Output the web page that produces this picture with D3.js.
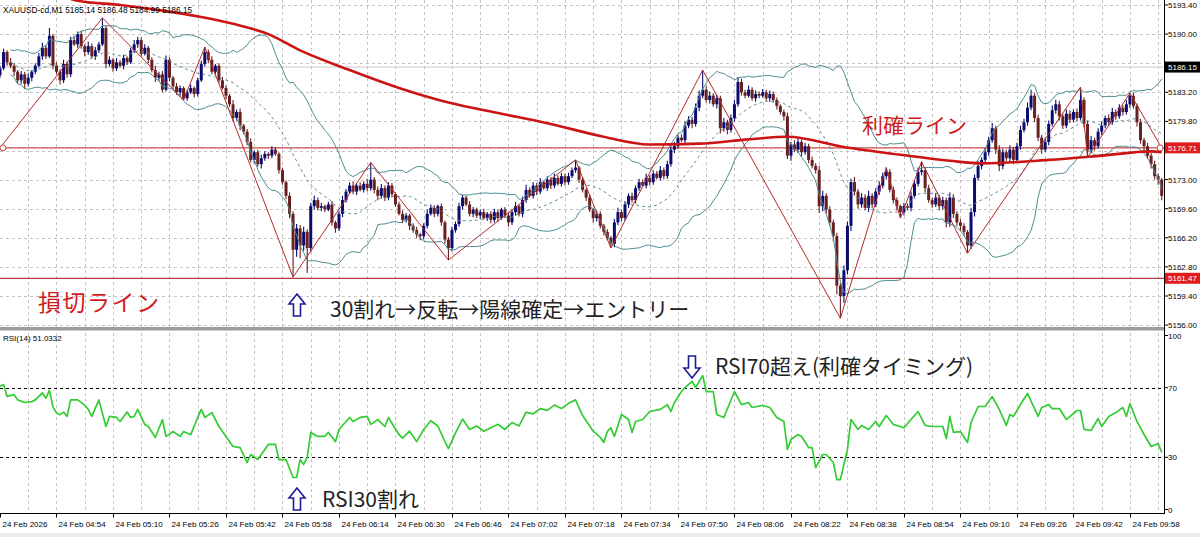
<!DOCTYPE html>
<html><head><meta charset="utf-8">
<script src="https://cdn.jsdelivr.net/npm/d3@7"></script>
<style>body{margin:0;background:#fff}svg{display:block}</style>
</head><body>
<svg id="c" width="1200" height="537"></svg>
<script>
// ---------------- data ----------------
const firstOpen = 5185.2;
const closes = [
5186.0,5187.9,5186.7,5186.3,5185.6,5184.6,5185.3,5184.2,5184.9,5185.6,
5186.3,5187.4,5188.4,5187.4,5189.8,5186.3,5185.6,5184.6,5186.5,5185.3,
5189.3,5188.8,5190.0,5188.6,5187.9,5188.6,5187.4,5188.1,5188.8,5190.7,
5186.5,5187.0,5186.0,5186.7,5186.3,5187.2,5186.7,5188.1,5188.8,5189.3,
5187.7,5188.4,5187.0,5185.8,5184.9,5185.3,5183.5,5187.0,5184.9,5183.9,
5183.2,5183.7,5182.5,5183.2,5183.7,5183.0,5184.6,5186.5,5187.9,5187.0,
5185.6,5186.3,5184.6,5183.7,5182.8,5181.8,5180.2,5180.9,5179.3,5178.6,
5177.4,5175.3,5176.2,5174.8,5175.5,5176.0,5175.8,5176.5,5176.0,5174.1,
5172.7,5171.1,5169.0,5164.8,5167.3,5165.3,5166.9,5165.0,5169.9,5170.6,
5169.7,5169.9,5169.5,5170.1,5168.0,5167.3,5169.0,5170.6,5171.6,5172.3,
5171.6,5172.3,5171.8,5172.5,5172.0,5173.0,5171.8,5171.1,5172.0,5170.9,
5172.3,5171.3,5170.1,5169.0,5168.3,5168.8,5167.6,5167.1,5166.6,5166.4,
5167.6,5169.0,5169.7,5169.0,5169.9,5168.0,5166.0,5165.0,5167.1,5167.8,
5169.9,5170.9,5170.1,5169.0,5169.5,5168.8,5169.2,5168.5,5169.0,5168.3,
5169.2,5168.5,5169.5,5168.8,5168.0,5169.2,5169.9,5169.0,5170.6,5171.8,
5171.1,5172.3,5171.6,5172.7,5172.0,5173.0,5172.3,5173.2,5172.5,5173.4,
5172.7,5173.4,5174.1,5174.4,5173.0,5171.8,5170.9,5169.5,5168.5,5169.0,
5167.6,5166.9,5166.2,5165.5,5168.0,5169.2,5168.5,5170.1,5171.1,5170.6,
5172.0,5172.7,5172.3,5173.2,5172.7,5173.7,5173.2,5174.1,5173.4,5174.8,
5176.5,5176.9,5177.9,5177.6,5179.3,5180.0,5179.5,5181.4,5182.8,5183.5,
5182.3,5182.8,5181.8,5182.5,5179.0,5179.7,5178.8,5180.2,5181.8,5184.4,
5183.2,5182.8,5183.5,5182.5,5183.0,5182.8,5183.2,5182.5,5183.0,5182.3,
5181.6,5180.9,5180.4,5175.8,5177.1,5176.5,5177.4,5176.2,5176.9,5175.3,
5174.6,5174.1,5169.9,5171.1,5169.5,5168.0,5166.4,5160.6,5159.4,5162.4,
5167.6,5172.7,5171.6,5170.1,5170.9,5169.7,5171.1,5170.1,5171.6,5172.3,
5173.4,5173.9,5171.8,5170.6,5169.9,5169.2,5169.9,5169.7,5171.1,5172.5,
5173.9,5174.1,5172.0,5170.6,5170.1,5170.9,5169.9,5170.6,5168.0,5170.9,
5169.0,5168.0,5167.6,5166.9,5165.3,5169.2,5173.2,5174.6,5175.3,5176.2,
5177.6,5179.0,5176.5,5174.6,5176.2,5175.5,5176.5,5175.3,5176.9,5178.8,
5179.7,5181.4,5182.8,5180.2,5177.9,5176.5,5177.4,5179.5,5181.1,5181.8,
5180.4,5179.3,5180.7,5180.0,5180.9,5180.2,5182.3,5179.5,5176.5,5177.6,
5176.9,5178.6,5179.3,5180.2,5179.7,5180.9,5180.4,5181.4,5180.9,5181.8,
5182.8,5181.6,5179.7,5177.6,5176.9,5175.8,5174.8,5173.4,5173.0,5171.1];
const upperWicks = [
0.3,0.4,0.2,0.5,0.3,0.2,0.4,0.3,0.5,0.2, 0.3,0.4,0.6,0.3,0.9,0.2,0.4,0.3,0.5,0.3,
0.4,0.5,0.3,0.4,0.2,0.5,0.3,0.4,0.3,1.2, 0.3,0.4,0.2,0.5,0.3,0.4,0.2,0.3,0.5,0.4,
0.3,0.4,0.2,0.3,0.5,0.3,0.4,0.5,0.3,0.2, 0.4,0.3,0.2,0.3,0.4,0.2,0.3,0.4,0.6,0.3,
0.4,0.2,0.3,0.4,0.3,0.2,0.5,0.3,0.4,0.2, 0.3,0.4,0.2,0.3,0.4,0.3,0.2,0.4,0.3,0.2,
0.3,0.2,0.4,0.3,0.5,0.4,0.6,0.3,0.4,0.5, 0.3,0.4,0.2,0.3,0.4,0.2,0.3,0.5,0.3,0.4,
0.5,0.3,0.4,0.3,0.6,2.0,0.3,0.4,0.5,0.3, 0.4,0.3,0.2,0.3,0.4,0.3,0.2,0.3,0.4,0.2,
0.3,0.5,0.4,0.3,0.2,0.3,0.2,0.3,0.4,0.3, 0.4,0.3,0.2,0.4,0.3,0.2,0.3,0.4,0.2,0.3,
0.4,0.3,0.2,0.3,0.4,0.3,0.5,0.2,0.4,0.6, 0.3,0.4,0.3,0.5,0.2,0.4,0.3,0.5,0.3,0.4,
0.3,0.4,0.3,0.9,0.2,0.3,0.2,0.3,0.2,0.4, 0.3,0.2,0.3,0.2,0.4,0.5,0.3,0.4,0.3,0.4,
0.3,0.4,0.3,0.5,0.3,0.4,0.3,0.5,0.3,0.4, 0.4,0.5,0.3,0.4,0.5,0.4,0.3,0.5,0.6,2.3,
0.4,0.5,0.3,0.4,0.3,0.5,0.3,0.4,0.5,0.6, 0.4,0.3,0.5,0.3,0.4,0.3,0.4,0.3,0.4,0.3,
0.3,0.2,0.3,0.4,0.3,0.5,0.4,0.3,0.4,0.3, 0.4,0.3,0.5,0.6,0.3,0.4,0.3,0.4,0.3,0.6,
0.5,0.4,0.6,0.3,0.5,0.4,0.6,0.3,0.4,0.5, 0.4,0.5,0.3,0.4,0.3,0.2,0.4,0.3,0.5,0.4,
0.5,1.0,0.3,0.4,0.3,0.5,0.3,0.4,0.3,0.6, 0.4,0.3,0.4,0.3,0.2,0.5,0.4,0.6,0.3,0.5,
0.4,0.6,0.3,0.5,0.4,0.3,0.5,0.3,0.4,0.5, 0.4,0.6,0.7,0.3,0.4,0.3,0.5,0.4,0.6,0.5,
0.4,0.3,0.5,0.4,0.3,0.4,1.5,0.3,0.4,0.5, 0.3,0.4,0.5,0.3,0.4,0.5,0.3,0.4,0.3,0.5,
0.3,0.4,0.3,0.4,0.3,0.4,0.3,0.4,0.3,0.2];
const lowerWicks = [
0.3,0.2,0.4,0.3,0.5,0.3,0.4,0.6,0.3,0.4, 0.3,0.2,0.4,0.3,0.2,0.4,0.3,0.5,0.3,0.4,
0.3,0.2,0.4,0.3,0.5,0.3,0.2,0.4,0.3,0.2, 0.5,0.3,0.4,0.3,0.2,0.4,0.3,0.2,0.3,0.4,
0.3,0.2,0.4,0.3,0.5,0.4,0.3,0.2,0.4,0.3, 0.3,0.4,0.2,0.3,0.2,0.4,0.3,0.2,0.3,0.4,
0.3,0.4,0.3,0.2,0.4,0.3,0.4,0.3,0.5,0.3, 0.4,0.3,0.4,0.3,0.5,0.3,0.4,0.3,0.2,0.4,
0.3,0.4,0.5,3.2,0.8,1.5,0.6,2.9,0.5,0.4, 0.3,0.4,0.3,0.2,0.4,0.5,0.3,0.4,0.3,0.2,
0.3,0.4,0.2,0.3,0.4,0.3,0.4,0.5,0.3,0.4, 0.3,0.4,0.3,0.2,0.4,0.3,0.5,0.3,0.4,0.5,
0.4,0.3,0.2,0.4,0.3,0.4,0.5,1.4,0.4,0.3, 0.3,0.4,0.2,0.3,0.4,0.3,0.4,0.2,0.3,0.4,
0.3,0.4,0.2,0.3,0.5,0.3,0.4,0.3,0.4,0.3, 0.2,0.3,0.4,0.3,0.2,0.3,0.4,0.3,0.2,0.3,
0.4,0.3,0.2,0.3,0.4,0.3,0.4,0.3,0.5,0.4, 0.3,0.4,0.3,0.5,0.4,0.3,0.4,0.3,0.4,0.3,
0.4,0.3,0.2,0.3,0.4,0.3,0.2,0.3,0.4,0.3, 0.3,0.4,0.3,0.2,0.4,0.3,0.5,0.3,0.4,0.3,
0.3,0.4,0.3,0.5,0.6,0.4,0.5,0.3,0.4,0.3, 0.4,0.3,0.2,0.3,0.4,0.3,0.2,0.3,0.4,0.3,
0.4,0.3,0.5,0.4,0.6,0.3,0.4,0.5,0.3,0.4, 0.3,0.4,0.8,0.6,0.5,0.4,0.6,1.0,2.6,0.8,
0.5,0.6,0.4,0.5,0.4,0.3,0.5,0.4,0.3,0.4, 0.3,0.4,0.3,0.4,0.5,0.7,0.4,0.3,0.4,0.3,
0.3,0.4,0.5,0.3,0.4,0.3,0.5,0.4,0.6,0.5, 0.5,0.4,0.6,0.5,0.9,0.4,0.5,0.3,0.4,0.3,
0.4,0.3,0.5,0.6,0.4,0.3,0.4,0.5,0.3,0.4, 0.3,0.4,0.3,0.5,0.4,0.5,0.3,0.4,0.3,0.4,
0.5,0.4,0.3,0.4,0.3,0.4,0.3,0.4,0.9,0.4, 0.5,0.3,0.4,0.3,0.4,0.3,0.4,0.3,0.4,0.3,
0.4,0.3,0.5,0.4,0.6,0.4,0.5,0.4,0.6,0.5];

const zigzagIdx   = [0,29,52,58,83,105,127,163,173,199,238,251,255,261,274,306,308,320,329];
const zigzagPrice = [5176.7,5191.9,5182.3,5188.5,5161.6,5175.0,5163.6,5175.3,5165.0,5185.8,5156.8,5174.4,5168.5,5175.1,5164.4,5183.8,5175.6,5183.1,5176.7];

const maIdx   = [14,22,34,45,57,66,76,85,99,113,127,142,156,170,184,198,212,223,239,255,269,278,297,312,326,329];
const maPrice = [5195.0,5193.9,5193.4,5192.8,5192.0,5191.2,5190.0,5188.1,5185.8,5183.7,5182.0,5180.7,5179.5,5178.1,5177.1,5177.2,5177.7,5178.0,5176.8,5175.9,5175.2,5174.9,5175.3,5175.8,5176.3,5176.2];

const rsiIdx = [0,1,2,4,5,7,9,10,12,13,14,15,16,17,18,19,20,22,24,25,26,28,30,31,33,34,36,37,38,39,41,42,44,46,47,49,51,52,54,56,57,58,60,62,64,66,68,70,71,73,75,76,78,79,81,83,84,85,86,87,88,90,92,93,95,96,99,100,102,104,105,107,109,110,113,
114,116,118,120,122,124,126,127,129,131,133,135,137,139,141,143,145,147,149,151,153,155,157,159,161,163,165,167,168,
170,171,172,173,174,176,178,179,180,182,184,187,189,190,191,193,194,196,197,199,200,202,203,205,208,210,212,213,216,218,220,222,223,224,226,227,229,230,231,233,234,236,237,238,240,241,243,244,246,248,249,251,253,256,258,260,262,264,267,268,269,270,272,274,275,277,279,281,283,285,286,287,289,291,294,295,297,298,300,302,305,306,307,309,311,312,314,316,318,319,320,322,324,326,328,329];
const rsiVal = [70.7,71.8,65,66,63,61.5,62,63,67,64,68.5,59,55.5,54.5,56,53.5,63,63,60,57.5,53.5,63,47.7,53.5,52.9,50.6,56,52.9,53.5,57.5,48.9,47.7,41.4,51.7,42,44.8,42,44.8,43,52.9,57.5,52.9,55.7,47.7,42,36.2,35.6,27,31.6,28.7,34.5,37.4,37.4,28.7,28.7,18.4,18.4,28.7,25.9,29.9,44.3,42,42,44.3,39,46,52.9,50.6,52.9,53.5,48.9,51.7,47.7,52.9,43,
41,45,39,46,51,48,39,35,44,52,46,48,45,47,49,46,50,48,56,55,58,57,60,58,61,63,54,48,45,
41.4,38.5,44.8,47,42,54.6,51.7,44.3,50.6,51.7,56.3,57.5,60.3,56.3,61.5,67.8,70.1,73.6,70.1,77,67.8,67.8,54.6,52.9,67.8,60.3,61.5,58.6,59.8,58.6,52.9,50.6,34.5,40.2,43.1,42,35.6,35.6,24.1,31.6,31.6,27,17.2,17.2,34.5,51.7,46,48.3,46,50.6,47.7,54,48.9,47,51.7,56.3,48.3,47.7,47.7,40.8,53.5,44.3,44.8,38.5,50,59.2,59.2,64.9,57.5,48.3,54.6,53.5,60.3,66.7,53.5,58.6,60.3,58,58,51.7,56.9,56.9,46,45.4,52.3,47.7,53.5,55.7,58.6,53.5,60.9,50.6,43.1,36.2,37.9,32.8];

const timeLabels = ["24 Feb 2026","24 Feb 04:54","24 Feb 05:10","24 Feb 05:26","24 Feb 05:42","24 Feb 05:58","24 Feb 06:14","24 Feb 06:30","24 Feb 06:46","24 Feb 07:02","24 Feb 07:18","24 Feb 07:34","24 Feb 07:50","24 Feb 08:06","24 Feb 08:22","24 Feb 08:38","24 Feb 08:54","24 Feb 09:10","24 Feb 09:26","24 Feb 09:42","24 Feb 09:58"];
const barsPerLabel = 16, barsPerGrid = 8;
const priceTicks = [5193.40,5190.00,5186.60,5183.20,5179.80,5176.40,5173.00,5169.60,5166.20,5162.80,5159.40,5156.00];
const rsiTicks = [100,70,30,0];
const rsiLevels = [70,30];
const bidPrice = 5186.15, takeProfit = 5176.71, stopLoss = 5161.47;
const headerText = "XAUUSD-cd,M1  5185.14 5186.48 5184.99 5186.15";
const rsiHeader = "RSI(14) 51.0332";

// ---------------- layout ----------------
const plotR = 1164;
const mainTop = 0, mainBot = 327;
const rsiTop = 331, rsiBot = 513.5;
const svg = d3.select("#c");
const x = d3.scaleLinear().domain([0, 329]).range([0, 329 * 3.531]);
const y = d3.scaleLinear().domain([5156, 5193.4]).range([325.1, 5]);
const yr = d3.scaleLinear().domain([0, 100]).range([509.5, 335.5]);
const sans = "'Liberation Sans', Arial, sans-serif";
const jp = "'Noto Sans CJK JP', 'Noto Sans CJK SC', sans-serif";

svg.append("rect").attr("width",1200).attr("height",537).attr("fill","#fff");

const defs = svg.append("defs");
defs.append("clipPath").attr("id","cm").append("rect").attr("x",0).attr("y",mainTop).attr("width",plotR).attr("height",mainBot-mainTop);
defs.append("clipPath").attr("id","cr").append("rect").attr("x",0).attr("y",rsiTop).attr("width",plotR).attr("height",rsiBot-rsiTop);

// grid
const gridBars = d3.range(barsPerGrid, 330, barsPerGrid);
const grid = svg.append("g").attr("stroke","#c4c4c4").attr("stroke-dasharray","3,3").attr("stroke-width",1);
gridBars.forEach(b=>{
  const gx = Math.round(x(b))+0.5;
  grid.append("line").attr("x1",gx).attr("x2",gx).attr("y1",mainTop).attr("y2",mainBot);
  grid.append("line").attr("x1",gx).attr("x2",gx).attr("y1",rsiTop+2).attr("y2",rsiBot);
});
priceTicks.forEach(p=>{
  const gy = Math.round(y(p))+0.5;
  grid.append("line").attr("x1",0).attr("x2",plotR).attr("y1",gy).attr("y2",gy);
});
const lev = svg.append("g").attr("stroke","#000").attr("stroke-dasharray","3,3").attr("stroke-width",1);
rsiLevels.forEach(v=>{
  const gy = Math.round(yr(v))+0.5;
  lev.append("line").attr("x1",0).attr("x2",plotR).attr("y1",gy).attr("y2",gy);
});

const main = svg.append("g").attr("clip-path","url(#cm)");

// bid line, TP, SL
main.append("line").attr("x1",0).attr("x2",plotR).attr("y1",y(bidPrice)).attr("y2",y(bidPrice)).attr("stroke","#c8c8c8").attr("stroke-width",1);
main.append("line").attr("x1",0).attr("x2",plotR).attr("y1",y(takeProfit)).attr("y2",y(takeProfit)).attr("stroke","#c84848").attr("stroke-width",1.3);
main.append("line").attr("x1",0).attr("x2",plotR).attr("y1",y(stopLoss)).attr("y2",y(stopLoss)).attr("stroke","#b83a3a").attr("stroke-width",1.2);

// candles
const bars = closes.map((c,i)=>{
  const o = i ? closes[i-1] : firstOpen;
  return {i, o, c, h: Math.max(o,c)+upperWicks[i], l: Math.min(o,c)-lowerWicks[i]};
});
const bull = "#0c0c70", bear = "#682020";
const cg = main.append("g");
bars.forEach(b=>{
  const col = b.c >= b.o ? bull : bear;
  const cx = x(b.i);
  cg.append("line").attr("x1",cx).attr("x2",cx).attr("y1",y(b.h)).attr("y2",y(b.l)).attr("stroke",col).attr("stroke-width",1.1);
  const top = y(Math.max(b.o,b.c)), bot = y(Math.min(b.o,b.c));
  cg.append("rect").attr("x",cx-1.5).attr("width",3).attr("y",top).attr("height",Math.max(1.2,bot-top)).attr("fill",col);
});

// Bollinger bands (20, 2)
const bb = bars.filter(b=>b.i>=3).map(b=>{
  const s = closes.slice(Math.max(0,b.i-19), b.i+1);
  const m = d3.mean(s);
  const sd = Math.sqrt(d3.mean(s, v=>(v-m)*(v-m)));
  return {i:b.i, m, u:m+2*sd, d:m-2*sd};
});
const bbCol = "#4d8c8e";
main.append("path").datum(bb).attr("fill","none").attr("stroke",bbCol).attr("stroke-width",1)
  .attr("d", d3.line().x(d=>x(d.i)).y(d=>y(d.u)));
main.append("path").datum(bb).attr("fill","none").attr("stroke",bbCol).attr("stroke-width",1)
  .attr("d", d3.line().x(d=>x(d.i)).y(d=>y(d.d)));
main.append("path").datum(bb).attr("fill","none").attr("stroke","#5f8f90").attr("stroke-width",1).attr("stroke-dasharray","3,3")
  .attr("d", d3.line().x(d=>x(d.i)).y(d=>y(d.m)));

// moving average
const ma = maIdx.map((v,k)=>({i:v, p:maPrice[k]}));
main.append("path").datum(ma).attr("fill","none").attr("stroke","#cc1414").attr("stroke-width",2.6)
  .attr("d", d3.line().curve(d3.curveMonotoneX).x(d=>x(d.i)).y(d=>y(d.p)));

// zigzag
const zz = zigzagIdx.map((v,k)=>({i:v, p:zigzagPrice[k]}));
main.append("path").datum(zz).attr("fill","none").attr("stroke","#b42a2a").attr("stroke-width",1)
  .attr("d", d3.line().x(d=>x(d.i)).y(d=>y(d.p)));

// TP line anchors
[3, 1160].forEach(px=>{
  svg.append("circle").attr("cx",px).attr("cy",y(takeProfit)).attr("r",3).attr("fill","#fff").attr("stroke","#c84848").attr("stroke-width",1);
});

// RSI line
const rsiData = rsiIdx.map((v,k)=>({i:v, v:rsiVal[k]}));
svg.append("g").attr("clip-path","url(#cr)").append("path").datum(rsiData)
  .attr("fill","none").attr("stroke","#33cc33").attr("stroke-width",1.7).attr("stroke-linejoin","round")
  .attr("d", d3.line().x(d=>x(d.i)).y(d=>yr(d.v)));

// frame lines
svg.append("rect").attr("x",0).attr("y",327).attr("width",plotR).attr("height",3.5).attr("fill","#9c9c9c");
svg.append("line").attr("x1",plotR+0.5).attr("x2",plotR+0.5).attr("y1",0).attr("y2",rsiBot).attr("stroke","#000").attr("stroke-width",1);
svg.append("line").attr("x1",0).attr("x2",plotR+1).attr("y1",rsiBot).attr("y2",rsiBot).attr("stroke","#000").attr("stroke-width",1);
svg.append("rect").attr("x",0).attr("y",533).attr("width",1200).attr("height",4).attr("fill","#ececec");

// price axis labels
const boxes = [[bidPrice,"#000"],[takeProfit,"#e01c1c"],[stopLoss,"#e01c1c"]];
const ax = svg.append("g").attr("font-family",sans).attr("font-size",8).attr("fill","#000");
priceTicks.forEach(p=>{
  const gy = y(p);
  ax.append("line").attr("x1",plotR).attr("x2",plotR+4).attr("y1",gy).attr("y2",gy).attr("stroke","#000");
  // labels that sit under a price box are hidden by it in the reference
  if (boxes.some(([bp])=>Math.abs(y(bp)-gy) < 9)) return;
  ax.append("text").attr("x",1168).attr("y",gy+3).text(p.toFixed(2));
});
rsiTicks.forEach(v=>{
  const gy = yr(v);
  ax.append("line").attr("x1",plotR).attr("x2",plotR+4).attr("y1",gy).attr("y2",gy).attr("stroke","#000");
  ax.append("text").attr("x",1168).attr("y",gy+3).text(v);
});
// price boxes
boxes.forEach(([p,col])=>{
  const gy = y(p);
  ax.append("rect").attr("x",plotR+1).attr("y",gy-5.5).attr("width",35).attr("height",11).attr("fill",col);
  ax.append("text").attr("x",1168).attr("y",gy+3).attr("fill","#fff").text(p.toFixed(2));
});

// time labels
timeLabels.forEach((t,k)=>{
  const tx = Math.round(x(k*barsPerLabel))+0.5;
  ax.append("line").attr("x1",tx).attr("x2",tx).attr("y1",rsiBot).attr("y2",rsiBot+4).attr("stroke","#000");
  ax.append("text").attr("x",tx+2).attr("y",527).text(t);
});

// headers
ax.append("text").attr("x",3).attr("y",13).attr("font-size",8.3).text(headerText);
ax.append("text").attr("x",3).attr("y",341).text(rsiHeader);

// annotations
const ann = svg.append("g").attr("font-family",jp);
ann.append("text").attr("x",862).attr("y",133).attr("font-size",21).attr("fill","#d01c1c").text("利確ライン");
ann.append("text").attr("x",38).attr("y",311).attr("font-size",23).attr("letter-spacing",1.5).attr("fill","#d01c1c").text("損切ライン");
ann.append("text").attr("x",330).attr("y",317).attr("font-size",21).attr("fill","#222").text("30割れ→反転→陽線確定→エントリー");
ann.append("text").attr("x",715).attr("y",374).attr("font-size",21).attr("fill","#222").text("RSI70超え(利確タイミング)");
ann.append("text").attr("x",322).attr("y",507).attr("font-size",21).attr("fill","#222").text("RSI30割れ");

function hollowArrow(cx, top, h, up){
  const w = 8, sw = 3.5, hh = 10;
  let pts;
  if(up) pts = [[cx,top],[cx+w,top+hh],[cx+sw,top+hh],[cx+sw,top+h],[cx-sw,top+h],[cx-sw,top+hh],[cx-w,top+hh]];
  else   pts = [[cx,top+h],[cx+w,top+h-hh],[cx+sw,top+h-hh],[cx+sw,top],[cx-sw,top],[cx-sw,top+h-hh],[cx-w,top+h-hh]];
  ann.append("path").attr("d","M"+pts.map(p=>p.join(",")).join("L")+"Z").attr("fill","#fff").attr("stroke","#1c1c96").attr("stroke-width",1.6).attr("stroke-linejoin","miter");
}
hollowArrow(297, 294, 22, true);
hollowArrow(692, 356, 22, false);
hollowArrow(297, 488, 22, true);
</script>
</body></html>
